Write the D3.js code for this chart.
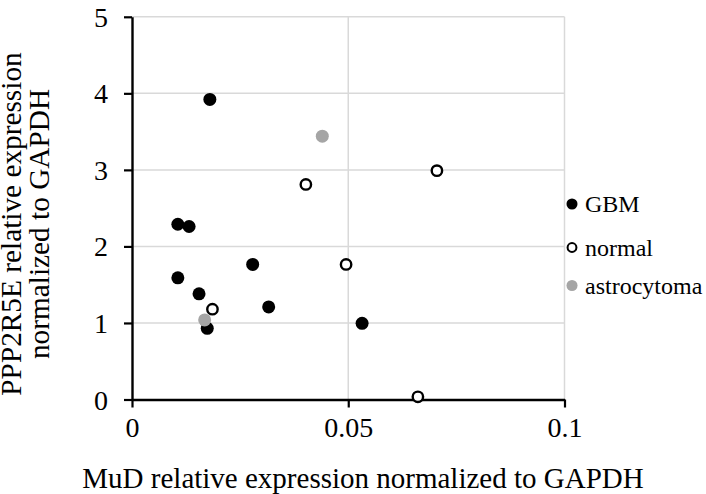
<!DOCTYPE html>
<html>
<head>
<meta charset="utf-8">
<script src="https://cdn.jsdelivr.net/npm/d3@7"></script>
<style>
  html, body { margin: 0; padding: 0; background: #fff; }
  svg text { font-family: "Liberation Serif", Tinos, "Times New Roman", Times, "DejaVu Serif", serif; }
</style>
</head>
<body>
<svg id="chart" width="706" height="494"></svg>
<script>
// MuD (x) vs PPP2R5E (y) expression, both normalized to GAPDH
const gbmX = [0.0180, 0.0106, 0.0132, 0.0106, 0.0155, 0.0174, 0.0279, 0.0316, 0.0532];
const gbmY = [3.92, 2.29, 2.26, 1.59, 1.38, 0.93, 1.765, 1.21, 0.995];
const normalX = [0.0402, 0.0186, 0.0495, 0.0705, 0.0661];
const normalY = [2.81, 1.18, 1.765, 2.99, 0.035];
const astroX = [0.0440, 0.0168];
const astroY = [3.44, 1.04];
const seriesNames = ["GBM", "normal", "astrocytoma"];
const xTicks = [0, 0.05, 0.1];
const xTickLabels = ["0", "0.05", "0.1"];
const yTicks = [0, 1, 2, 3, 4, 5];
const xTitle = "MuD relative expression normalized to GAPDH";
const yTitleLines = ["PPP2R5E relative expression", "normalized to GAPDH"];

const FONT = '"Liberation Serif", Tinos, "Times New Roman", Times, "DejaVu Serif", serif';

const svg = d3.select("#chart");
const plot = { left: 132, right: 564.5, top: 16.8, bottom: 399.5 };

const x = d3.scaleLinear().domain([0, 0.1]).range([plot.left, plot.right]);
const y = d3.scaleLinear().domain([0, 5]).range([plot.bottom, plot.top]);

const gridColor = "#d9d9d9";
const grey = "#a5a5a5";

// gridlines
svg.append("g").selectAll("line")
  .data(yTicks.filter(d => d > 0)).join("line")
  .attr("x1", plot.left).attr("x2", plot.right)
  .attr("y1", d => y(d)).attr("y2", d => y(d))
  .attr("stroke", gridColor).attr("stroke-width", 1.5);
svg.append("g").selectAll("line")
  .data(xTicks.filter(d => d > 0)).join("line")
  .attr("x1", d => x(d)).attr("x2", d => x(d))
  .attr("y1", plot.top).attr("y2", plot.bottom)
  .attr("stroke", gridColor).attr("stroke-width", 1.5);

// axes
const xAxis = d3.axisBottom(x).tickValues(xTicks)
  .tickFormat((d, i) => xTickLabels[i]).tickSizeInner(8).tickSizeOuter(0).tickPadding(10);
const yAxis = d3.axisLeft(y).tickValues(yTicks)
  .tickFormat(d3.format("d")).tickSizeInner(8).tickSizeOuter(0).tickPadding(16);

const gx = svg.append("g").attr("transform", `translate(0,${plot.bottom})`).call(xAxis);
const gy = svg.append("g").attr("transform", `translate(${plot.left},0)`).call(yAxis);
[gx, gy].forEach(g => {
  g.attr("font-family", null).attr("font-size", null);
  g.select(".domain").attr("stroke", "#000").attr("stroke-width", 2.4);
  g.selectAll(".tick line").attr("stroke", "#000").attr("stroke-width", 2.2);
  g.selectAll(".tick text").attr("fill", "#000")
    .style("font-family", FONT).style("font-size", "28px");
});
gx.selectAll(".tick text").attr("dy", "0.71em");
gy.selectAll(".tick text").attr("dy", "0.34em");

// axis titles
svg.append("text")
  .attr("x", 363).attr("y", 487.5).attr("text-anchor", "middle")
  .style("font-family", FONT).style("font-size", "29px").attr("fill", "#000").text(xTitle);

const yt = svg.append("text")
  .attr("transform", "translate(0,224) rotate(-90)")
  .attr("text-anchor", "middle").style("font-family", FONT)
  .style("font-size", "29.3px").attr("fill", "#000");
yt.append("tspan").attr("x", 0).attr("y", 20.5).text(yTitleLines[0]);
yt.append("tspan").attr("x", 0).attr("y", 49).text(yTitleLines[1]);

// markers
const series = [
  { name: seriesNames[0], xs: gbmX, ys: gbmY, fill: "#000", stroke: "none", r: 6.5, sw: 0 },
  { name: seriesNames[1], xs: normalX, ys: normalY, fill: "#fff", stroke: "#000", r: 5.2, sw: 2.4 },
  { name: seriesNames[2], xs: astroX, ys: astroY, fill: grey, stroke: "none", r: 6.5, sw: 0 }
];

// draw order so open circles sit above filled ones where they overlap
[series[0], series[2], series[1]].forEach(s => {
  svg.append("g").selectAll("circle")
    .data(s.xs.map((v, i) => [v, s.ys[i]])).join("circle")
    .attr("cx", d => x(d[0])).attr("cy", d => y(d[1])).attr("r", s.r)
    .attr("fill", s.fill).attr("stroke", s.stroke).attr("stroke-width", s.sw);
});

// legend
const legendY = [204, 247.5, 285.5];
const lg = svg.append("g");
series.forEach((s, i) => {
  lg.append("circle").attr("cx", 572).attr("cy", legendY[i])
    .attr("r", s.r * 0.85).attr("fill", s.fill).attr("stroke", s.stroke)
    .attr("stroke-width", s.sw * 0.85);
  lg.append("text").attr("x", 585).attr("y", legendY[i]).attr("dy", "0.35em")
    .style("font-family", FONT).style("font-size", "24px").attr("fill", "#000").text(s.name);
});
</script>
</body>
</html>
